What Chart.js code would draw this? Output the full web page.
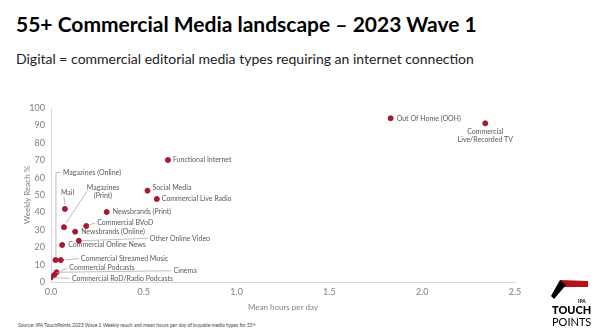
<!DOCTYPE html>
<html>
<head>
<meta charset="utf-8">
<script src="https://cdn.jsdelivr.net/npm/chart.js@4/dist/chart.umd.min.js"></script>
<style>
  body { margin: 0; background: #fff; font-family: Lato, "Open Sans", sans-serif; }
  #wrap { position: relative; width: 602px; height: 335px; overflow: hidden; }
  .title { position: absolute; left: 16px; top: 12px; font-size: 21px; line-height: 24px; font-weight: 700; color: #000; white-space: nowrap; }
  .sub { position: absolute; left: 16px; top: 50px; font-size: 14px; line-height: 18px; color: #222; white-space: nowrap; }
  .source { position: absolute; left: 18px; top: 322px; font-size: 5px; line-height: 6px; color: #444; white-space: nowrap; }
  #box { position: absolute; left: 0; top: 95px; width: 560px; height: 225px; }
  .logo { position: absolute; left: 546px; top: 276px; width: 56px; height: 59px; }
  .logo .ipa { position: absolute; left: 32px; top: 22px; font-size: 5px; font-weight: 700; color: #000; }
  .logo .t1 { position: absolute; left: 6px; top: 28px; font-size: 11px; line-height: 12px; font-weight: 900; color: #000; }
  .logo .t2 { position: absolute; left: 6px; top: 40px; font-size: 11px; line-height: 12px; color: #000; }
</style>
</head>
<body>
<div id="wrap">
  <div class="title">55+ Commercial Media landscape – 2023 Wave 1</div>
  <div class="sub">Digital = commercial editorial media types requiring an internet connection</div>
  <div id="box"><canvas id="my-chart"></canvas></div>
  <div class="source">Source: IPA TouchPoints 2023 Wave 1 Weekly reach and mean hours per day of buyable media types for 55+</div>
  <div class="logo">
    <svg width="56" height="24" style="position:absolute;left:0;top:0">
      <polygon points="14,4 42,5 42,11 18,11" fill="#b5121b"/>
      <polygon points="14,4 20,9 8,23 5,20" fill="#000"/>
    </svg>
    <div class="ipa">IPA</div>
    <div class="t1">TOUCH</div>
    <div class="t2">POINTS</div>
  </div>
</div>
<script>
// media types and their values (mean hours per day, weekly reach %)
const mediaTypes = [
  'Commercial\nLive/Recorded TV',
  'Out Of Home (OOH)',
  'Functional Internet',
  'Social Media',
  'Commercial Live Radio',
  'Newsbrands (Print)',
  'Mail',
  'Magazines\n(Print)',
  'Commercial BVoD',
  'Newsbrands (Online)',
  'Other Online Video',
  'Commercial Online News',
  'Commercial Streamed Music',
  'Magazines (Online)',
  'Commercial Podcasts',
  'Cinema',
  'Commercial RoD/Radio Podcasts'
];
const hoursPerDay = [2.34, 1.83, 0.63, 0.52, 0.57, 0.30, 0.075, 0.07, 0.19, 0.13, 0.15, 0.06, 0.053, 0.024, 0.018, 0.03, 0.0];
const weeklyReach = [91.2, 94.1, 70.1, 52.5, 47.7, 40.2, 42.0, 31.5, 32.2, 28.9, 23.7, 21.3, 12.6, 12.6, 4.0, 5.6, 2.7];

// label placement next to each dot (px offsets from the dot), leader lines where needed
const labelLayout = [
  { dx: 0, dy: 8.5, align: 'center' },
  { dx: 6, dy: 0 },
  { dx: 5, dy: 0 },
  { dx: 5, dy: -3 },
  { dx: 5, dy: 0 },
  { dx: 6, dy: 0 },
  { dx: -4, dy: -16, leader: [[-1, -12], [0, -4]] },
  { dx: 39, dy: -39, align: 'center', leader: [[2, -4], [23, -36]] },
  { dx: 11, dy: -3.5, leader: [[3, -1], [9, -3]] },
  { dx: 6, dy: 0 },
  { dx: 71, dy: -2.5, leader: [[3, 0], [69, -2.5]] },
  { dx: 6, dy: 0 },
  { dx: 20, dy: -1.5, leader: [[4, 0], [18, -1.5]] },
  { dx: 7.5, dy: -87.5, leader: [[0.5, -3], [0.5, -87.5], [5, -87.5]] },
  { dx: 15, dy: -7, leader: [[2, -2], [13, -7]] },
  { dx: 117, dy: -1.5, leader: [[2, 0], [114, -1.5]] },
  { dx: 21, dy: 1, leader: [[2, 0.5], [19, 1]] }
];

const pointLabels = {
  id: 'pointLabels',
  afterDatasetsDraw(chart) {
    const ctx = chart.ctx;
    const meta = chart.getDatasetMeta(0);
    ctx.save();
    ctx.font = '7px Lato';
    ctx.fillStyle = '#595959';
    ctx.strokeStyle = '#a6a6a6';
    ctx.lineWidth = 0.75;
    ctx.textBaseline = 'middle';
    meta.data.forEach((pt, i) => {
      const lay = labelLayout[i];
      if (lay.leader) {
        ctx.beginPath();
        lay.leader.forEach(([lx, ly], j) => {
          if (j === 0) ctx.moveTo(pt.x + lx, pt.y + ly);
          else ctx.lineTo(pt.x + lx, pt.y + ly);
        });
        ctx.stroke();
      }
      ctx.textAlign = lay.align || 'left';
      mediaTypes[i].split('\n').forEach((line, k) => {
        ctx.fillText(line, pt.x + lay.dx, pt.y + lay.dy + k * 7.5);
      });
    });
    ctx.restore();
  }
};

const tickFont = { family: 'Lato', size: 9 };
const ctx = document.getElementById('my-chart').getContext('2d');

new Chart(ctx, {
  type: 'scatter',
  data: {
    datasets: [{
      label: '55+',
      data: hoursPerDay.map((h, i) => ({ x: h, y: weeklyReach[i] })),
      backgroundColor: '#a6192e',
      borderColor: '#a6192e',
      pointRadius: 2.5,
      pointHoverRadius: 2.5
    }]
  },
  options: {
    responsive: true,
    maintainAspectRatio: false,
    animation: false,
    layout: { padding: { left: 0, right: 45, top: 13, bottom: 0 } },
    plugins: { legend: { display: false }, tooltip: { enabled: false } },
    scales: {
      x: {
        type: 'linear',
        min: 0,
        max: 2.5,
        afterFit: s => { s.height = 38; },
        grid: { display: false, drawTicks: false },
        border: { display: true, color: '#d9d9d9' },
        ticks: { stepSize: 0.5, padding: 5, color: '#808080', font: tickFont, callback: v => v.toFixed(1) },
        title: { display: true, text: 'Mean hours per day', color: '#808080', font: { family: 'Lato', size: 8 }, padding: { top: 0, bottom: 8 } }
      },
      y: {
        min: 0,
        max: 100,
        afterFit: s => { s.width = 51; },
        grid: { display: false, drawTicks: false },
        border: { display: true, color: '#d9d9d9' },
        ticks: { stepSize: 10, padding: 6, color: '#808080', font: tickFont },
        title: { display: true, text: 'Weekly Reach %', color: '#808080', font: { family: 'Lato', size: 8 }, padding: { top: 23, bottom: 0 } }
      }
    }
  },
  plugins: [pointLabels]
});
</script>
</body>
</html>
